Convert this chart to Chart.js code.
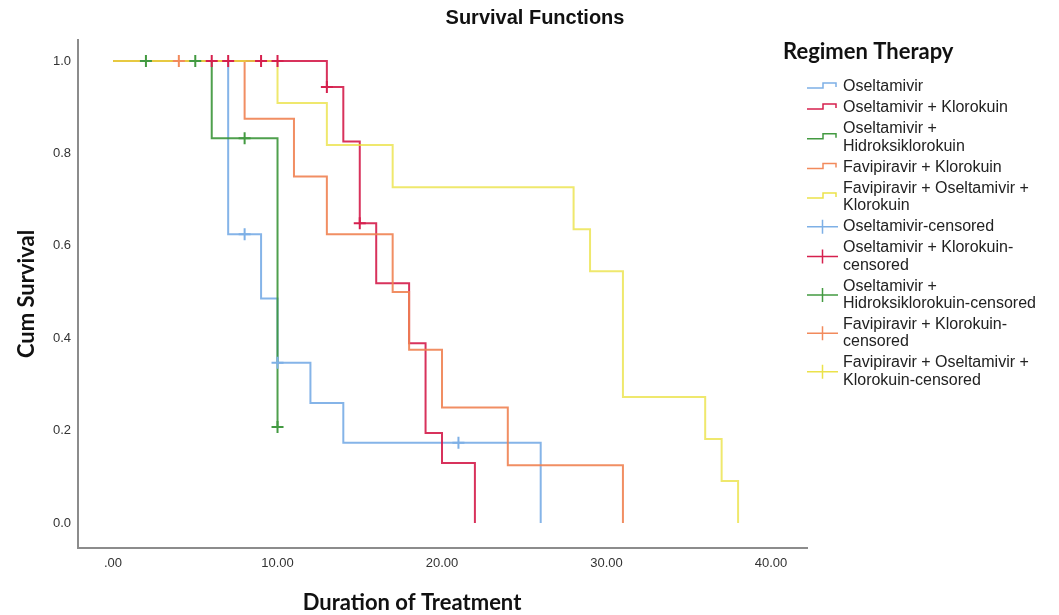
<!DOCTYPE html>
<html>
<head>
<meta charset="utf-8">
<title>Survival Functions</title>
<script src="https://cdn.jsdelivr.net/npm/chart.js@4.4.0/dist/chart.umd.min.js"></script>
<style>
    html, body { margin: 0; padding: 0; background: #fff; }
    #wrap { width: 1059px; height: 615px; position: relative; }
</style>
</head>
<body>
<div id="wrap"><canvas id="survChart" width="1059" height="615"></canvas></div>
<script>
// survival steps (time in days, cumulative survival)
const oselTimes = [0, 7, 9, 10, 12, 14, 26];
const oselSurv = [1, 0.625, 0.486, 0.347, 0.26, 0.174, 0];
const oselCensTimes = [8, 10, 21];
const oselCensSurv = [0.625, 0.347, 0.174];

const oselKloTimes = [0, 13, 14, 15, 16, 18, 19, 20, 22];
const oselKloSurv = [1, 0.944, 0.826, 0.649, 0.519, 0.389, 0.195, 0.13, 0];
const oselKloCensTimes = [6, 7, 9, 10, 13, 15];
const oselKloCensSurv = [1, 1, 1, 1, 0.944, 0.649];

const oselHidTimes = [0, 6, 10];
const oselHidSurv = [1, 0.833, 0.208];
const oselHidCensTimes = [2, 5, 8, 10];
const oselHidCensSurv = [1, 1, 0.833, 0.208];

const faviKloTimes = [0, 8, 11, 13, 17, 18, 20, 24, 31];
const faviKloSurv = [1, 0.875, 0.75, 0.625, 0.5, 0.375, 0.25, 0.125, 0];
const faviKloCensTimes = [4];
const faviKloCensSurv = [1];

const faviOselKloTimes = [0, 10, 13, 17, 28, 29, 31, 36, 37, 38];
const faviOselKloSurv = [1, 0.909, 0.818, 0.727, 0.636, 0.545, 0.273, 0.182, 0.091, 0];
const faviOselKloCensTimes = [];
const faviOselKloCensSurv = [];

const xTicks = [0, 10, 20, 30, 40];
const xTickLabels = ['.00', '10.00', '20.00', '30.00', '40.00'];
const yTicks = [0, 0.2, 0.4, 0.6, 0.8, 1.0];
const yTickLabels = ['0.0', '0.2', '0.4', '0.6', '0.8', '1.0'];

const groupNames = [
    ['Oseltamivir'],
    ['Oseltamivir + Klorokuin'],
    ['Oseltamivir +', 'Hidroksiklorokuin'],
    ['Favipiravir + Klorokuin'],
    ['Favipiravir + Oseltamivir +', 'Klorokuin']
];
const censoredNames = [
    ['Oseltamivir-censored'],
    ['Oseltamivir + Klorokuin-', 'censored'],
    ['Oseltamivir +', 'Hidroksiklorokuin-censored'],
    ['Favipiravir + Klorokuin-', 'censored'],
    ['Favipiravir + Oseltamivir +', 'Klorokuin-censored']
];
const groupColors = ['#7eb0e6', '#d6204e', '#439a41', '#f28a5c', '#ebe24a'];
const lineColors = ['rgba(120,172,230,0.9)', 'rgba(212,28,74,0.9)', 'rgba(60,150,58,0.9)',
                    'rgba(240,130,82,0.9)', 'rgba(234,224,60,0.75)'];

function toPoints(xs, ys) {
    return xs.map(function(x, i) { return {x: x, y: ys[i]}; });
}

const curves = [
    [oselTimes, oselSurv],
    [oselKloTimes, oselKloSurv],
    [oselHidTimes, oselHidSurv],
    [faviKloTimes, faviKloSurv],
    [faviOselKloTimes, faviOselKloSurv]
];
const censors = [
    [oselCensTimes, oselCensSurv],
    [oselKloCensTimes, oselKloCensSurv],
    [oselHidCensTimes, oselHidCensSurv],
    [faviKloCensTimes, faviKloCensSurv],
    [faviOselKloCensTimes, faviOselKloCensSurv]
];

const datasets = [];
// censor marks first so they sit on top
censors.forEach(function(c, i) {
    datasets.push({
        label: censoredNames[i].join(' '),
        data: toPoints(c[0], c[1]),
        showLine: false,
        pointStyle: 'cross',
        pointRadius: 6,
        pointBorderWidth: 2,
        pointBorderColor: groupColors[i],
        borderColor: groupColors[i]
    });
});
// yellow drawn last of the lines = on top
for (let i = curves.length - 1; i >= 0; i--) {
    datasets.push({
        label: groupNames[i].join(' '),
        data: toPoints(curves[i][0], curves[i][1]),
        stepped: 'before',
        borderColor: lineColors[i],
        borderWidth: 2,
        pointRadius: 0,
        fill: false
    });
}

const LEGEND_X = 807;
const LEGEND_TEXT_X = 843;
const LEGEND_TOP = 87;
const ITEM_GAP = 21;
const LINE_GAP = 17.4;

const extraText = {
    id: 'extraText',
    afterDraw(chart) {
        const ctx = chart.ctx;
        ctx.save();
        ctx.fillStyle = '#111';
        ctx.textBaseline = 'middle';

        ctx.textAlign = 'center';
        ctx.font = 'bold 20px "Liberation Sans", Arial, sans-serif';
        ctx.fillText('Survival Functions', 535, 18);

        ctx.font = 'bold 22px Lato, sans-serif';
        ctx.fillText('Duration of Treatment', 412, 603);

        ctx.textAlign = 'left';
        ctx.fillText('Regimen Therapy', 783, 52);

        // legend entries
        ctx.font = '16px "Liberation Sans", Arial, sans-serif';
        let y = LEGEND_TOP;
        const entries = [];
        groupNames.forEach(function(n, i) { entries.push({lines: n, color: groupColors[i], kind: 'step'}); });
        censoredNames.forEach(function(n, i) { entries.push({lines: n, color: groupColors[i], kind: 'cross'}); });

        entries.forEach(function(e) {
            const mid = y + (e.lines.length - 1) * LINE_GAP / 2;
            ctx.strokeStyle = e.color;
            ctx.lineWidth = 1.5;
            ctx.beginPath();
            if (e.kind === 'step') {
                ctx.moveTo(LEGEND_X, mid + 1);
                ctx.lineTo(LEGEND_X + 16, mid + 1);
                ctx.lineTo(LEGEND_X + 16, mid - 4);
                ctx.lineTo(LEGEND_X + 29, mid - 4);
                ctx.lineTo(LEGEND_X + 29, mid);
            } else {
                ctx.moveTo(LEGEND_X, mid);
                ctx.lineTo(LEGEND_X + 31, mid);
                ctx.moveTo(LEGEND_X + 15.5, mid - 7);
                ctx.lineTo(LEGEND_X + 15.5, mid + 7);
            }
            ctx.stroke();

            ctx.fillStyle = '#222';
            e.lines.forEach(function(t, k) {
                ctx.fillText(t, LEGEND_TEXT_X, y + k * LINE_GAP);
            });
            y += (e.lines.length - 1) * LINE_GAP + ITEM_GAP;
        });
        ctx.restore();
    }
};

const tickFont = { family: 'Arial, "Liberation Sans", sans-serif', size: 13 };

const config = {
    type: 'line',
    data: { datasets: datasets },
    options: {
        responsive: false,
        animation: false,
        events: [],
        layout: { padding: { left: 0, top: 40, right: 252, bottom: 0 } },
        plugins: {
            legend: { display: false },
            title: { display: false },
            tooltip: { enabled: false }
        },
        scales: {
            x: {
                type: 'linear',
                min: -2.13,
                max: 42.19,
                grid: { display: false, drawTicks: false },
                border: { display: true, color: '#8c8c8c', width: 2 },
                afterBuildTicks: function(scale) {
                    scale.ticks = xTicks.map(function(v) { return {value: v}; });
                },
                afterFit: function(scale) { scale.height = 67; },
                ticks: {
                    padding: 8,
                    color: '#333',
                    font: tickFont,
                    maxRotation: 0,
                    callback: function(value) {
                        const i = xTicks.indexOf(value);
                        return i >= 0 ? xTickLabels[i] : '';
                    }
                }
            },
            y: {
                type: 'linear',
                min: -0.054,
                max: 1.0455,
                grid: { display: false, drawTicks: false },
                border: { display: true, color: '#8c8c8c', width: 2 },
                afterBuildTicks: function(scale) {
                    scale.ticks = yTicks.map(function(v) { return {value: v}; });
                },
                afterFit: function(scale) { scale.width = 78; },
                ticks: {
                    padding: 7,
                    color: '#333',
                    font: tickFont,
                    callback: function(value) {
                        const i = yTicks.findIndex(function(t) { return Math.abs(t - value) < 1e-6; });
                        return i >= 0 ? yTickLabels[i] : '';
                    }
                },
                title: {
                    display: true,
                    text: 'Cum Survival',
                    color: '#111',
                    font: { family: 'Lato, sans-serif', size: 22, weight: 'bold' },
                    padding: { top: 14, bottom: 0 }
                }
            }
        }
    },
    plugins: [extraText]
};

new Chart(document.getElementById('survChart'), config);
</script>
</body>
</html>
